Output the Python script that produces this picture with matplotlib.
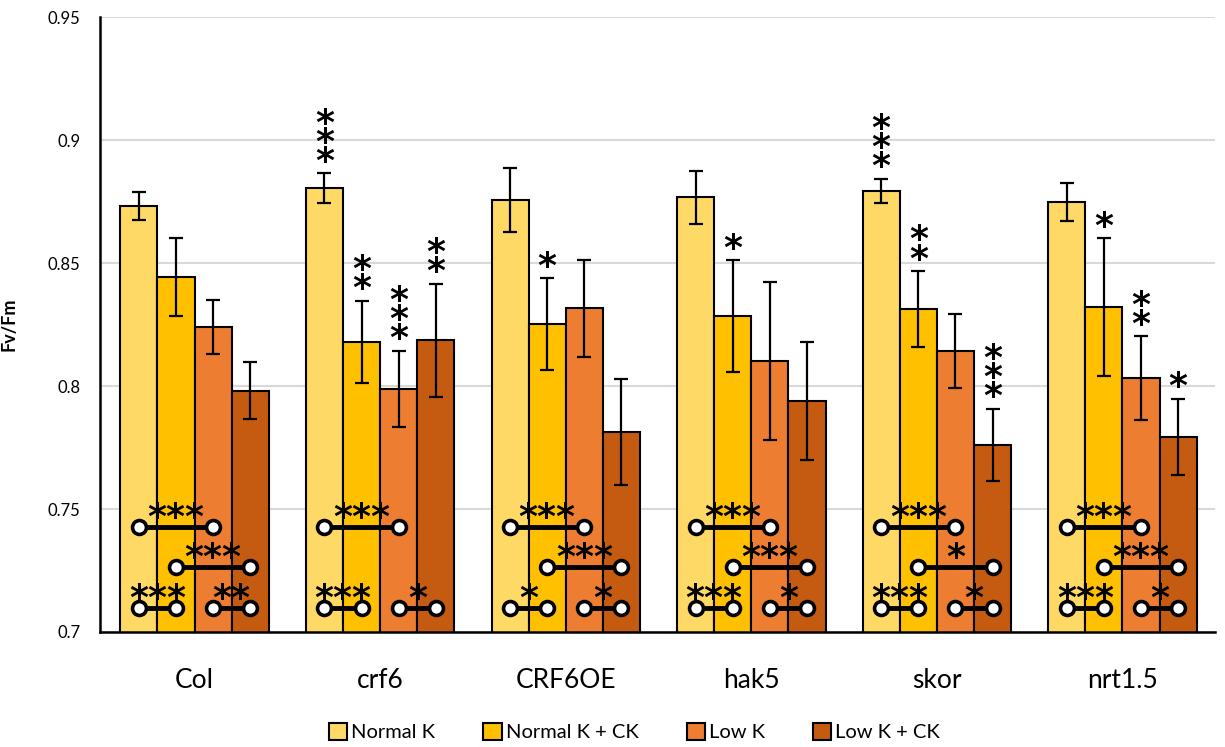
import numpy as np
import matplotlib.pyplot as plt

plt.rcParams['font.family'] = ['Lato', 'DejaVu Sans']

# Data
groups = ['Col', 'crf6', 'CRF6OE', 'hak5', 'skor', 'nrt1.5']
series = ['Normal K', 'Normal K + CK', 'Low K', 'Low K + CK']

normal_k = [0.8732, 0.8805, 0.8756, 0.8768, 0.8793, 0.8748]
normal_k_ck = [0.8443, 0.8180, 0.8252, 0.8285, 0.8313, 0.8321]
low_k = [0.8240, 0.7988, 0.8317, 0.8102, 0.8142, 0.8033]
low_k_ck = [0.7980, 0.8187, 0.7813, 0.7939, 0.7760, 0.7793]

normal_k_err = [0.0057, 0.0060, 0.0130, 0.0108, 0.0050, 0.0077]
normal_k_ck_err = [0.0160, 0.0167, 0.0187, 0.0228, 0.0155, 0.0280]
low_k_err = [0.0110, 0.0155, 0.0197, 0.0320, 0.0150, 0.0170]
low_k_ck_err = [0.0116, 0.0230, 0.0215, 0.0240, 0.0148, 0.0155]

# significance stars above the bars
stars_normal_k = ['', '***', '', '', '***', '']
stars_normal_k_ck = ['', '**', '*', '*', '**', '*']
stars_low_k = ['', '***', '', '', '', '**']
stars_low_k_ck = ['', '**', '', '', '***', '*']

# pairwise comparisons inside each group (bar i vs bar j)
cmp_1_3 = ['***', '***', '***', '***', '***', '***']
cmp_2_4 = ['***', '', '***', '***', '*', '***']
cmp_1_2 = ['***', '***', '*', '***', '***', '***']
cmp_3_4 = ['**', '*', '*', '*', '*', '*']

colors = ['#FFD966', '#FFC000', '#ED7D31', '#C55A11']

means = [normal_k, normal_k_ck, low_k, low_k_ck]
errs = [normal_k_err, normal_k_ck_err, low_k_err, low_k_ck_err]
stars = [stars_normal_k, stars_normal_k_ck, stars_low_k, stars_low_k_ck]

fig = plt.figure(figsize=(12.25, 7.47), dpi=100)
ax = fig.add_axes([0.0816, 0.154, 0.9104, 0.823])

x = np.arange(len(groups))
w = 0.2
offsets = (np.arange(4) - 1.5) * w
star_font = dict(fontsize=26, family='DejaVu Sans', fontweight='bold')

for i in range(4):
    ax.bar(x + offsets[i], means[i], w, color=colors[i], edgecolor='black',
           linewidth=1.5, label=series[i], zorder=2)
    ax.errorbar(x + offsets[i], means[i], yerr=errs[i], fmt='none',
                ecolor='black', elinewidth=1.6, capsize=5, capthick=1.6, zorder=3)
    for g in range(len(groups)):
        s = stars[i][g]
        if not s:
            continue
        top = means[i][g] + errs[i][g]
        # stars stacked vertically above the error bar
        ax.annotate('\n'.join(s), (x[g] + offsets[i], top), xytext=(0, 1),
                    textcoords='offset points', ha='center', va='baseline',
                    linespacing=0.45, zorder=5, **star_font)


def bracket(a, b, level, labels):
    for g in range(len(groups)):
        if not labels[g]:
            continue
        x1 = x[g] + offsets[a]
        x2 = x[g] + offsets[b]
        ax.plot([x1, x2], [level, level], color='black', lw=3.5, zorder=4,
                solid_capstyle='butt')
        ax.plot([x1, x2], [level, level], 'o', ms=10, mfc='white', mec='black',
                mew=2.6, zorder=5)
        ax.annotate(labels[g], ((x1 + x2) / 2, level), xytext=(0, -1),
                    textcoords='offset points', ha='center', va='baseline',
                    zorder=6, **star_font)


bracket(0, 2, 0.7427, cmp_1_3)
bracket(1, 3, 0.7264, cmp_2_4)
bracket(0, 1, 0.7098, cmp_1_2)
bracket(2, 3, 0.7098, cmp_3_4)

ax.set_ylim(0.7, 0.95)
ax.set_xlim(-0.51, 5.5)
ax.set_yticks([0.7, 0.75, 0.8, 0.85, 0.9, 0.95])
ax.set_yticklabels(['0.7', '0.75', '0.8', '0.85', '0.9', '0.95'])
ax.set_xticks(x)
ax.set_xticklabels(groups, fontsize=19)
ax.tick_params(axis='y', length=0, labelsize=12, pad=14)
ax.tick_params(axis='x', length=0, pad=26)
ax.yaxis.grid(True, color='#d9d9d9', lw=1.5, zorder=0)
ax.set_axisbelow(True)
for side in ['top', 'right']:
    ax.spines[side].set_visible(False)
ax.spines['left'].set_linewidth(1.8)
ax.spines['bottom'].set_linewidth(1.8)
ax.set_ylabel('Fv/Fm', fontsize=13, fontweight='bold', labelpad=22)

fig.legend(loc='center', bbox_to_anchor=(0.518, 0.02), ncol=4, frameon=False,
           fontsize=14.5, handlelength=0.9, handleheight=0.9, handletextpad=0.2,
           columnspacing=2.4)

fig.savefig('out.png', dpi=100)
